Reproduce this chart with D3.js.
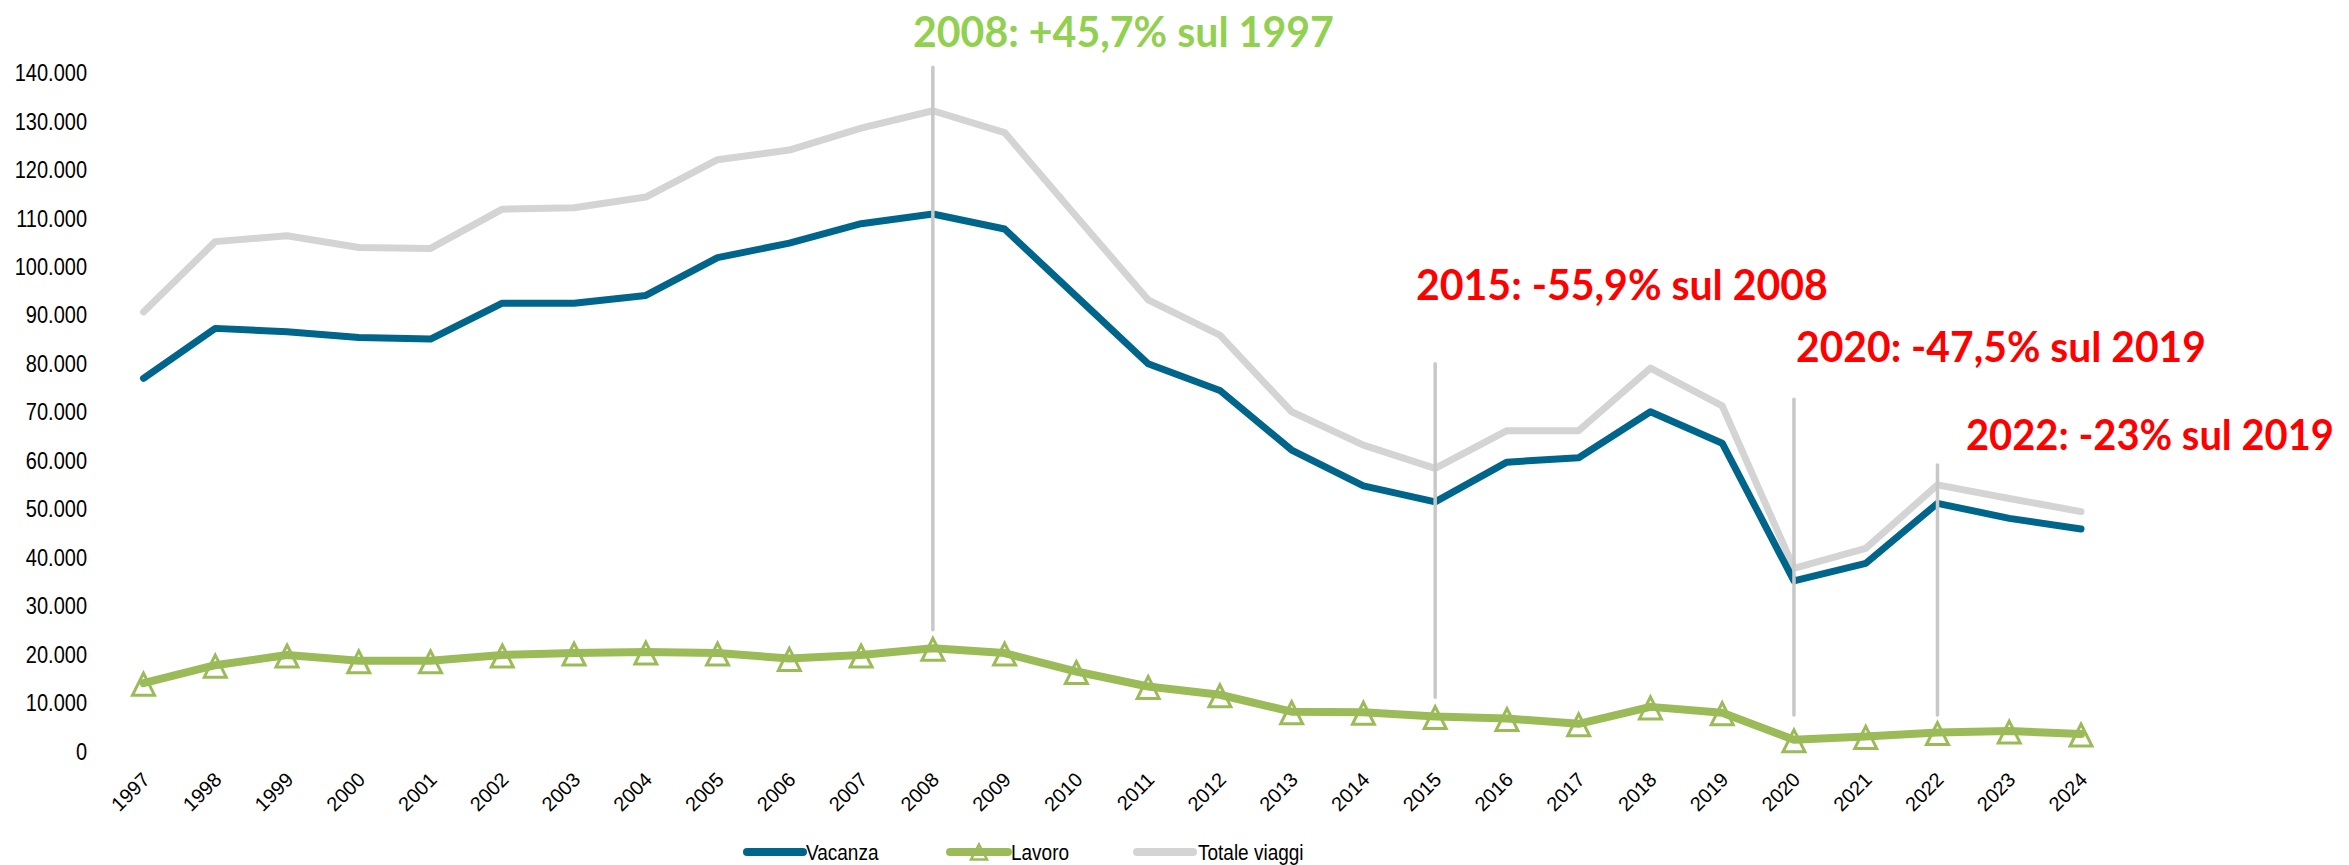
<!DOCTYPE html>
<html>
<head>
<meta charset="utf-8">
<script src="https://cdn.jsdelivr.net/npm/d3@7/dist/d3.min.js"></script>
<style>
  html, body { margin: 0; padding: 0; background: #ffffff; }
  svg { display: block; }
</style>
</head>
<body>
<svg id="chart" width="2349" height="865"></svg>
<script>
// ---------- DATA ----------
const years = ["1997","1998","1999","2000","2001","2002","2003","2004","2005","2006",
               "2007","2008","2009","2010","2011","2012","2013","2014","2015","2016",
               "2017","2018","2019","2020","2021","2022","2023","2024"];

const vacanza = [76800, 87100, 86400, 85200, 84900, 92300, 92300, 93900, 101700, 104700,
                 108700, 110700, 107600, 93700, 79800, 74300, 62000, 54600, 51300, 59500,
                 60400, 69900, 63400, 35000, 38600, 51000, 47900, 45700];

const lavoro = [13900, 17600, 19700, 18500, 18500, 19700, 20100, 20300, 20100, 19000,
                19700, 21100, 20100, 16300, 13200, 11500, 8000, 7900, 7000, 6600,
                5500, 9000, 7800, 2200, 2900, 3700, 4000, 3400];

const totale = [90500, 105000, 106200, 103800, 103600, 111700, 112000, 114200, 121900, 123900,
                128400, 132000, 127500, 110200, 93000, 85700, 69900, 63000, 58200, 66000,
                66000, 78900, 71100, 37600, 41700, 54800, 52000, 49300];

const yTickValues = [0, 10000, 20000, 30000, 40000, 50000, 60000, 70000,
                     80000, 90000, 100000, 110000, 120000, 130000, 140000];

const seriesNames = ["Vacanza", "Lavoro", "Totale viaggi"];

// annotation markers: year, value range of the vertical rule
const annoYears  = ["2008", "2015", "2020", "2022"];
const annoTop    = [141000, 79800, 72500, 58900];
const annoBottom = [24900, 11000, 7300, 7300];
const annoTexts  = ["2008: +45,7% sul 1997", "2015: -55,9% sul 2008",
                    "2020: -47,5% sul 2019", "2022: -23% sul 2019"];

// ---------- STYLE / LAYOUT ----------
const colVac = "#00658A";
const colLav = "#9BBB59";
const colTot = "#D4D4D4";
const colRule = "#C8C8C8";
const baseFont = "Liberation Sans, Arial, sans-serif";

const svg = d3.select("#chart");

const x = d3.scalePoint().domain(years).range([143.5, 2081]);
const y = d3.scaleLinear().domain([0, 140000]).range([750.5, 72]);

const itLocale = d3.formatLocale({decimal: ",", thousands: ".", grouping: [3], currency: ["€", ""]});
const fmt = itLocale.format(",d");

// Y axis (labels only)
const yAxis = d3.axisLeft(y).tickValues(yTickValues).tickFormat(fmt).tickSize(0).tickPadding(0);
const gy = svg.append("g").attr("transform", "translate(87,0)").call(yAxis);
gy.select(".domain").remove();
gy.selectAll("text")
  .attr("font-family", baseFont)
  .attr("font-size", 20)
  .attr("fill", "#000")
  .attr("x", 0)
  .attr("dy", "0.36em")
  .attr("transform", "scale(1,1.2)");

// X axis (rotated labels only)
const xAxis = d3.axisBottom(x).tickSize(0).tickPadding(0);
const gx = svg.append("g").attr("transform", "translate(0,781)").call(xAxis);
gx.select(".domain").remove();
gx.selectAll(".tick text")
  .attr("font-family", baseFont)
  .attr("font-size", 20)
  .attr("fill", "#000")
  .attr("text-anchor", "end")
  .attr("dy", 0)
  .attr("y", 0)
  .attr("transform", "translate(7,0) rotate(-45)");

// lines
const line = d3.line().x((d, i) => x(years[i])).y(d => y(d));

svg.append("path").datum(totale)
  .attr("d", line).attr("fill", "none").attr("stroke", colTot)
  .attr("stroke-width", 7).attr("stroke-linejoin", "round").attr("stroke-linecap", "round");

svg.append("path").datum(vacanza)
  .attr("d", line).attr("fill", "none").attr("stroke", colVac)
  .attr("stroke-width", 7).attr("stroke-linejoin", "round").attr("stroke-linecap", "round");

svg.append("path").datum(lavoro)
  .attr("d", line).attr("fill", "none").attr("stroke", colLav)
  .attr("stroke-width", 8).attr("stroke-linejoin", "round").attr("stroke-linecap", "round");

// triangle markers
function tri(w, h) {
  return `M0,${-h/2} L${w/2},${h/2} L${-w/2},${h/2} Z`;
}
svg.append("g").selectAll("path").data(lavoro).join("path")
  .attr("d", tri(22, 22))
  .attr("transform", (d, i) => `translate(${x(years[i])},${y(d) + 1})`)
  .attr("fill", "none")
  .attr("stroke", colLav)
  .attr("stroke-width", 3)
  .attr("stroke-linejoin", "miter");

// vertical annotation rules
svg.append("g").selectAll("line").data(annoYears).join("line")
  .attr("x1", d => x(d)).attr("x2", d => x(d))
  .attr("y1", (d, i) => y(annoTop[i])).attr("y2", (d, i) => y(annoBottom[i]))
  .attr("stroke", colRule).attr("stroke-width", 3.5).attr("stroke-linecap", "round");

// annotation texts (scaled horizontally to match the narrow original face)
const annoPos = [
  {x: 913,  y: 47,  w: 421, c: "#92D050"},
  {x: 1416, y: 300, w: 412, c: "#FF0000"},
  {x: 1796, y: 362, w: 410, c: "#FF0000"},
  {x: 1966, y: 450, w: 368, c: "#FF0000"}
];
svg.append("g").selectAll("text").data(annoTexts).join("text")
  .attr("x", 0)
  .attr("y", 0)
  .attr("fill", (d, i) => annoPos[i].c)
  .attr("font-family", "Lato, Liberation Sans, Arial, sans-serif")
  .attr("font-weight", 700)
  .attr("font-size", 42)
  .text(d => d)
  .each(function(d, i) {
    const natural = this.getComputedTextLength();
    const sx = annoPos[i].w / natural;
    d3.select(this).attr("transform", `translate(${annoPos[i].x},${annoPos[i].y}) scale(${sx},1)`);
  });

// legend
const legendItems = [
  {x1: 747, x2: 803, tx: 806, col: colVac, marker: false},
  {x1: 950, x2: 1008, tx: 1011, col: colLav, marker: true},
  {x1: 1137, x2: 1193, tx: 1198, col: colTot, marker: false}
];
const ly = 852;
const lg = svg.append("g");
legendItems.forEach((it, i) => {
  lg.append("line").attr("x1", it.x1).attr("x2", it.x2).attr("y1", ly).attr("y2", ly)
    .attr("stroke", it.col).attr("stroke-width", 8).attr("stroke-linecap", "round");
  if (it.marker) {
    lg.append("path").attr("d", tri(16, 15))
      .attr("transform", `translate(${(it.x1 + it.x2) / 2},${ly})`)
      .attr("fill", "none").attr("stroke", it.col).attr("stroke-width", 2.5);
  }
  lg.append("text")
    .attr("transform", `translate(${it.tx},${ly}) scale(1,1.2)`)
    .attr("dy", "0.36em")
    .attr("font-family", baseFont)
    .attr("font-size", 19).attr("fill", "#000")
    .text(seriesNames[i]);
});
</script>
</body>
</html>
